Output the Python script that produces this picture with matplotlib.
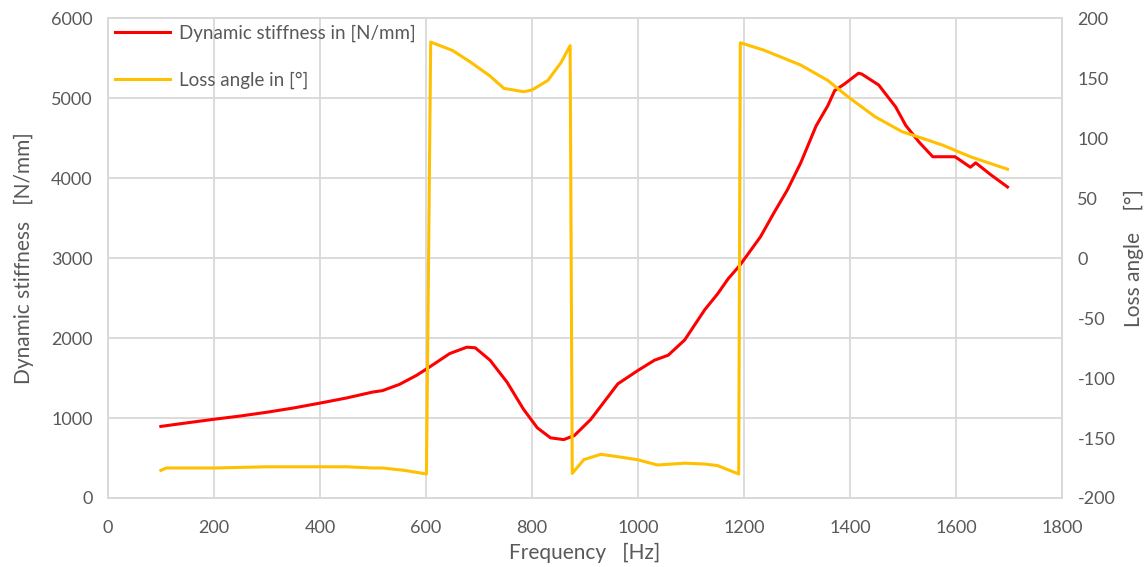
import matplotlib
matplotlib.use("Agg")
import matplotlib.pyplot as plt

plt.rcParams['font.family'] = ['Lato', 'DejaVu Sans']
plt.rcParams['axes.unicode_minus'] = False

# dynamic stiffness [N/mm] vs frequency [Hz]
stiff_freq = [100, 150, 200, 250, 300, 350, 400, 450, 500, 518, 550, 582, 607, 645, 677,
              693, 721, 753, 784, 810, 835, 860, 880, 911, 962, 1000, 1031, 1057, 1088,
              1126, 1150, 1170, 1192, 1231, 1256, 1282, 1307, 1336, 1358, 1371, 1390,
              1416, 1422, 1454, 1486, 1505, 1531, 1556, 1598, 1627, 1637, 1665, 1697]
stiffness = [895, 940, 984, 1025, 1072, 1125, 1186, 1250, 1325, 1342, 1420, 1532, 1638, 1806,
             1885, 1878, 1722, 1448, 1110, 878, 752, 730, 781, 983, 1427, 1595, 1722, 1785,
             1975, 2354, 2550, 2740, 2908, 3265, 3560, 3854, 4190, 4652, 4904, 5093, 5178,
             5310, 5300, 5163, 4889, 4658, 4443, 4266, 4266, 4135, 4190, 4043, 3888]

# loss angle [deg] vs frequency [Hz]
loss_freq = [100, 110, 200, 300, 400, 450, 500, 518, 560, 601, 609, 650, 683, 720, 747, 784,
             800, 830, 855, 872, 876, 898, 930, 962, 998, 1037, 1088, 1126, 1150, 1190, 1193,
             1237, 1307, 1358, 1396, 1447, 1498, 1537, 1575, 1627, 1697]
loss_angle = [-177, -175, -175, -174, -174, -174, -175, -175, -177, -180, 180, 173, 163.6,
              152, 141.4, 138.6, 140, 148, 163, 177, -179.5, -168, -163.6, -165.6, -168,
              -172.5, -171, -171.7, -173, -180, 179.4, 173.3, 160.8, 148, 134.4, 117.8,
              105.3, 99.7, 94, 84.4, 74]

x_ticks = list(range(0, 2000, 200))
y_ticks = list(range(0, 7000, 1000))
y2_ticks = list(range(-200, 250, 50))

txt = '#595959'
grid = '#d9d9d9'

fig = plt.figure(figsize=(11.47, 5.67), dpi=100)
ax = fig.add_axes([0.094, 0.1217, 0.832, 0.8465])
ax2 = ax.twinx()

l1, = ax.plot(stiff_freq, stiffness, color='#ff0000', lw=2.2, label='Dynamic stiffness in [N/mm]')
l2, = ax2.plot(loss_freq, loss_angle, color='#ffc000', lw=2.2, label='Loss angle in [°]')

ax.set_xlim(0, 1800)
ax.set_ylim(0, 6000)
ax2.set_ylim(-200, 200)
ax.set_xticks(x_ticks)
ax.set_yticks(y_ticks)
ax2.set_yticks(y2_ticks)

ax.grid(True, color=grid, lw=1.3)
ax.set_axisbelow(True)
for a in (ax, ax2):
    for s in a.spines.values():
        s.set_color(grid)
        s.set_linewidth(1.3)
    a.tick_params(length=0, labelsize=13, colors=txt, pad=11)
ax.tick_params(axis='x', pad=16)

ax.set_xlabel('Frequency   [Hz]', fontsize=15, color=txt, labelpad=5)
ax.set_ylabel('Dynamic stiffness   [N/mm]', fontsize=15, color=txt, labelpad=12)
ax2.set_ylabel('Loss angle    [°]', fontsize=15, color=txt, labelpad=6)

leg = ax.legend(handles=[l1, l2], loc='upper left', bbox_to_anchor=(-0.006, 1.013),
                frameon=False, fontsize=13.5, handlelength=2.9, labelspacing=1.55,
                handletextpad=0.5, borderaxespad=0.3)
for t in leg.get_texts():
    t.set_color(txt)

fig.savefig('out.png', dpi=100)
